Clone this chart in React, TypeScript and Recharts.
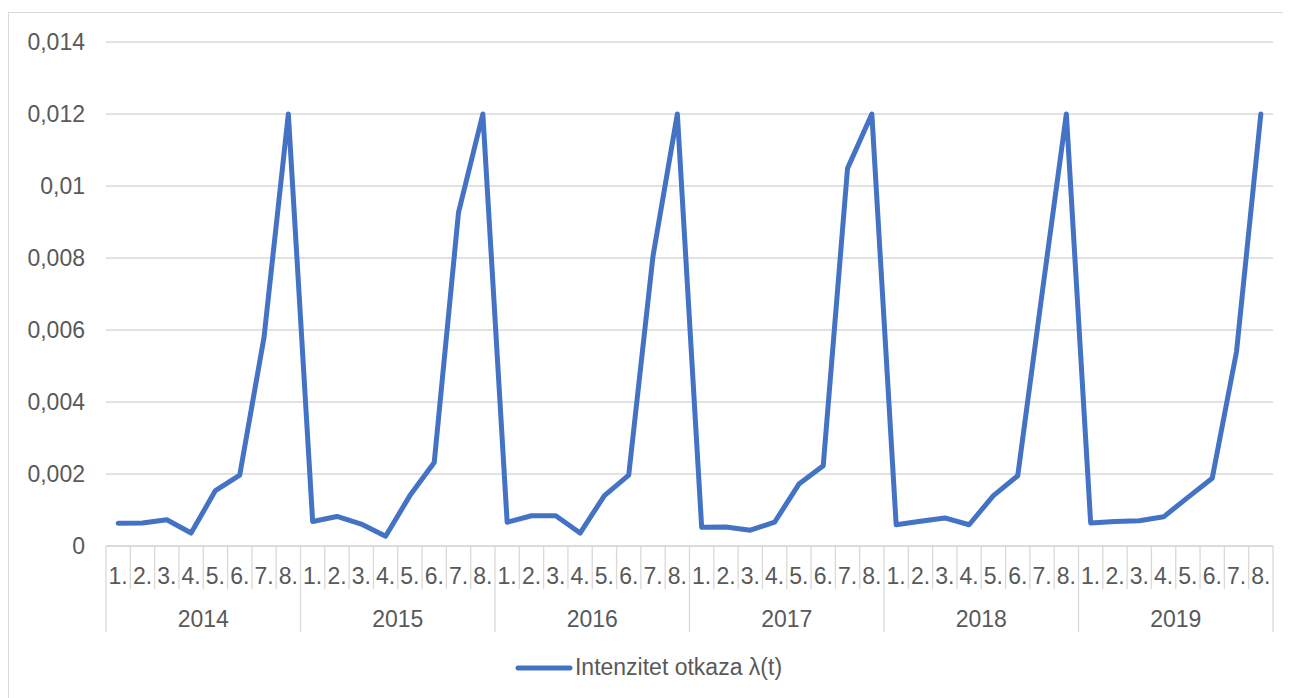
import { LineChart, Line, XAxis, YAxis, CartesianGrid, Legend } from "recharts";

const years = ["2014", "2015", "2016", "2017", "2018", "2019"];
const months = ["1.", "2.", "3.", "4.", "5.", "6.", "7.", "8."];

const v2014 = [0.00063, 0.00064, 0.00073, 0.00036, 0.00154, 0.00197, 0.0058, 0.012];
const v2015 = [0.00068, 0.00082, 0.00061, 0.00027, 0.0014, 0.00232, 0.00927, 0.012];
const v2016 = [0.00066, 0.00084, 0.00084, 0.00036, 0.0014, 0.00197, 0.00806, 0.012];
const v2017 = [0.00052, 0.00053, 0.00044, 0.00066, 0.00172, 0.00223, 0.01049, 0.012];
const v2018 = [0.00059, 0.00069, 0.00078, 0.00059, 0.0014, 0.00195, 0.007, 0.012];
const v2019 = [0.00064, 0.00068, 0.0007, 0.00081, 0.00135, 0.00188, 0.0054, 0.012];

const yTicks = [0, 0.002, 0.004, 0.006, 0.008, 0.01, 0.012, 0.014];

const seriesByYear = [v2014, v2015, v2016, v2017, v2018, v2019];
const data = years.flatMap((year, yi) =>
    months.map((m, mi) => ({ key: `${year}-${m}`, month: m, year, value: seriesByYear[yi][mi] }))
);

const W = 1279;
const H = 688;
const X_AXIS_H = 100;
const LEGEND_H = 27;
// plot area spans chart y 29..533
const M = { top: 29, right: 15, bottom: H - 533 - X_AXIS_H - LEGEND_H, left: 0 };
const Y_AXIS_W = 97;
const band = (W - M.right - M.left - Y_AXIS_W) / data.length;

const FONT = "'Liberation Sans', Arial, sans-serif";
const TEXT = "#595959";
const GRID = "#d9d9d9";
const BLUE = "#4472C4";
const FS = 23;

// month label + dividers, year label drawn under the 1st month of each year
const MonthYearTick = (props: any) => {
    const { x, y, payload } = props;
    const i = payload.index;
    const row = data[i];
    const first = i % months.length === 0;
    const last = i === data.length - 1;
    return (
        <g>
            <line x1={x - band / 2} x2={x - band / 2} y1={y} y2={y + (first ? 86 : 43)} stroke={GRID} strokeWidth={1.3} />
            {last && <line x1={x + band / 2} x2={x + band / 2} y1={y} y2={y + 86} stroke={GRID} strokeWidth={1.3} />}
            <text x={x} y={y + 30} dy="0.36em" textAnchor="middle" fill={TEXT} fontSize={FS} fontFamily={FONT}>
                {row.month}
            </text>
            {first && (
                <text x={x - band / 2 + (band * months.length) / 2} y={y + 73} dy="0.36em" textAnchor="middle" fill={TEXT} fontSize={FS} fontFamily={FONT}>
                    {row.year}
                </text>
            )}
        </g>
    );
};

const LegendContent = () => (
    <div style={{ height: LEGEND_H, display: "flex", justifyContent: "center", alignItems: "center", fontFamily: FONT, fontSize: FS, color: TEXT }}>
        <svg width={58} height={10} style={{ marginRight: 2 }}>
            <line x1={3} x2={55} y1={5} y2={5} stroke={BLUE} strokeWidth={5} strokeLinecap="round" />
        </svg>
        <span>Intenzitet otkaza λ(t)</span>
    </div>
);

export default function App() {
    return (
        <div style={{ width: W, height: H, border: `1px solid ${GRID}`, marginTop: 4, background: "#fff" }}>
            <LineChart width={W} height={H} data={data} margin={M}>
                <CartesianGrid vertical={false} stroke={GRID} strokeWidth={1.3} />
                <XAxis
                    dataKey="key"
                    interval={0}
                    height={X_AXIS_H}
                    padding={{ left: band / 2, right: band / 2 }}
                    axisLine={{ stroke: GRID, strokeWidth: 1.3 }}
                    tickLine={false}
                    tickSize={0}
                    tickMargin={0}
                    tick={<MonthYearTick />}
                />
                <YAxis
                    width={Y_AXIS_W}
                    domain={[0, 0.014]}
                    ticks={yTicks}
                    axisLine={false}
                    tickLine={false}
                    tickSize={0}
                    tickMargin={21}
                    tick={{ fill: TEXT, fontSize: FS, fontFamily: FONT }}
                    tickFormatter={(v: number) => String(v).replace(".", ",")}
                />
                <Legend verticalAlign="bottom" height={LEGEND_H} content={<LegendContent />} wrapperStyle={{ bottom: 20, left: 0, width: W }} />
                <Line
                    type="linear"
                    dataKey="value"
                    name="Intenzitet otkaza λ(t)"
                    stroke={BLUE}
                    strokeWidth={5}
                    strokeLinecap="round"
                    strokeLinejoin="round"
                    dot={false}
                    isAnimationActive={false}
                />
            </LineChart>
        </div>
    );
}
